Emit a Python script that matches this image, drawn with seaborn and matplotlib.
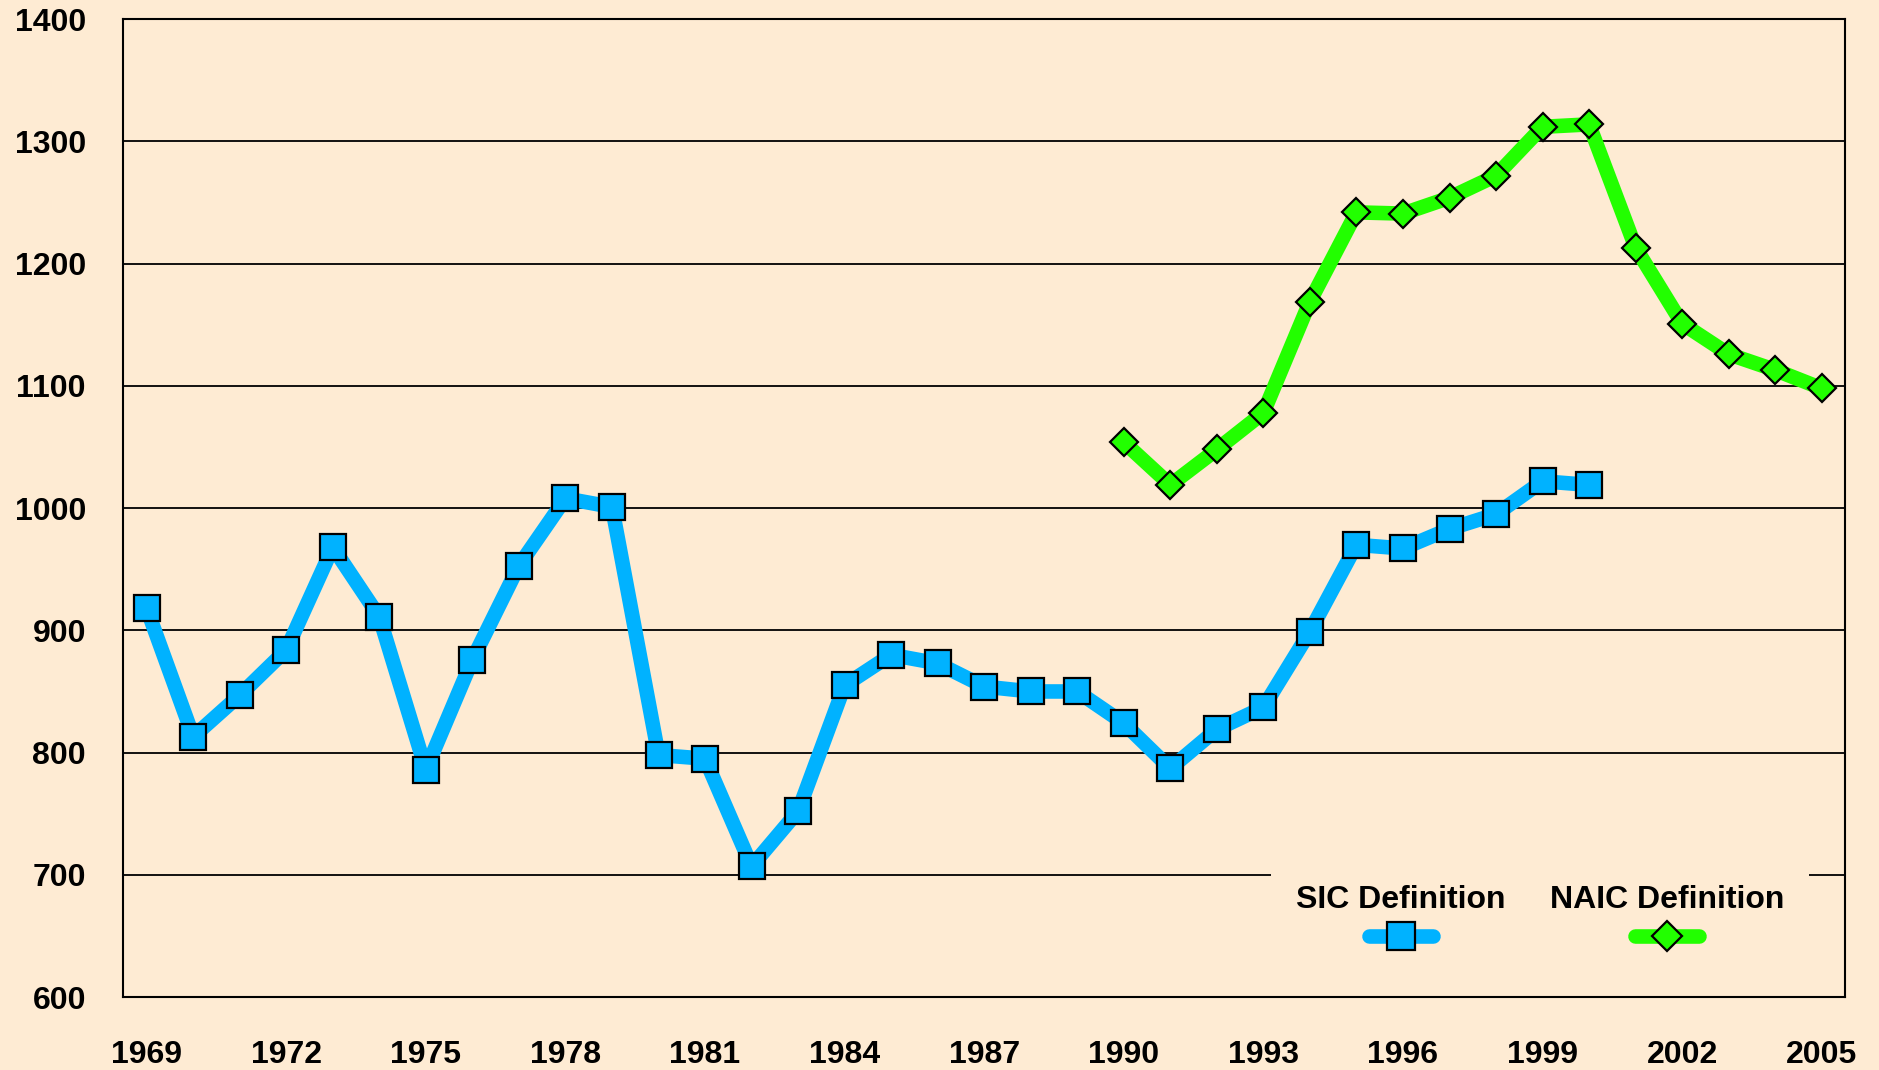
import numpy as np
import pandas as pd
import matplotlib
matplotlib.use("Agg")
import matplotlib.pyplot as plt
import seaborn as sns
from matplotlib.lines import Line2D
from matplotlib.offsetbox import TextArea, DrawingArea, VPacker, HPacker, AnchoredOffsetbox

# data
sic_years = list(range(1969, 2001))
sic_values = [918, 813, 847, 884, 968, 911, 786, 876, 953, 1008,
              1001, 798, 795, 707, 752, 855, 880, 873, 854, 850,
              850, 824, 787, 819, 837, 899, 970, 967, 983, 995,
              1022, 1019]
naic_years = list(range(1990, 2006))
naic_values = [1054, 1019, 1048, 1078, 1169, 1242, 1241, 1254, 1272, 1312,
               1314, 1213, 1151, 1126, 1113, 1098]
label_years = list(range(1969, 2006, 3))
y_ticks = list(range(600, 1401, 100))

bg = '#FEEBD3'
blue = '#00B2FF'
green = '#22FF00'

sns.set_style('white')
plt.rcParams['font.family'] = ['Liberation Sans', 'DejaVu Sans']
plt.rcParams['font.weight'] = 'bold'
plt.rcParams['text.color'] = 'black'

df_sic = pd.DataFrame({'year': sic_years, 'value': sic_values})
df_naic = pd.DataFrame({'year': naic_years, 'value': naic_values})

fig = plt.figure(figsize=(18.79, 10.70), dpi=100, facecolor=bg)
ax = fig.add_axes([0.0657, 0.0682, 0.9162, 0.9138])
ax.set_facecolor(bg)

sns.lineplot(data=df_sic, x='year', y='value', ax=ax, color=blue, lw=10.5,
             marker='s', markersize=19, markerfacecolor=blue,
             markeredgecolor='black', markeredgewidth=1.6,
             solid_joinstyle='round', solid_capstyle='round')
sns.lineplot(data=df_naic, x='year', y='value', ax=ax, color=green, lw=10.5,
             marker='D', markersize=14.5, markerfacecolor=green,
             markeredgecolor='black', markeredgewidth=1.6,
             solid_joinstyle='round', solid_capstyle='round')

ax.set_xlim(1968.5, 2005.5)
ax.set_ylim(600, 1400)
ax.set_yticks(y_ticks)
ax.set_xticks(list(range(1969, 2006)))
ax.set_xticklabels([str(y) if y in label_years else '' for y in range(1969, 2006)])
ax.set_xlabel('')
ax.set_ylabel('')
ax.yaxis.grid(True, color='black', lw=1.3)
ax.set_axisbelow(True)
for s in ax.spines.values():
    s.set_color('black')
    s.set_linewidth(1.5)
ax.tick_params(axis='x', direction='out', length=23, width=1.2, color='black',
               pad=8, labelsize=23, labelcolor='black')
ax.tick_params(axis='y', length=0, pad=27, labelsize=23, labelcolor='black')
for t in ax.get_xticklabels() + ax.get_yticklabels():
    t.set_fontweight('bold')

# legend: label above its line sample
cols = []
for name, c, m, ms in [('SIC Definition', blue, 's', 20), ('NAIC Definition', green, 'D', 15)]:
    ta = TextArea(name, textprops=dict(fontsize=23, fontweight='bold', color='black'))
    da = DrawingArea(56, 30)
    da.add_artist(Line2D([5, 51], [15, 15], color=c, lw=10.5, solid_capstyle='round'))
    da.add_artist(Line2D([28], [15], marker=m, markersize=ms, markerfacecolor=c,
                         markeredgecolor='black', markeredgewidth=1.6, linestyle='none'))
    cols.append(VPacker(children=[ta, da], align='center', pad=0, sep=0))
box = HPacker(children=cols, align='top', pad=18, sep=32)
leg = AnchoredOffsetbox(loc='center', child=box, pad=0, frameon=True,
                        bbox_to_anchor=(0.823, 0.078), bbox_transform=ax.transAxes,
                        borderpad=0)
leg.patch.set_facecolor(bg)
leg.patch.set_edgecolor('none')
leg.set_zorder(5)
ax.add_artist(leg)

fig.savefig('out.png', dpi=100, facecolor=bg)
